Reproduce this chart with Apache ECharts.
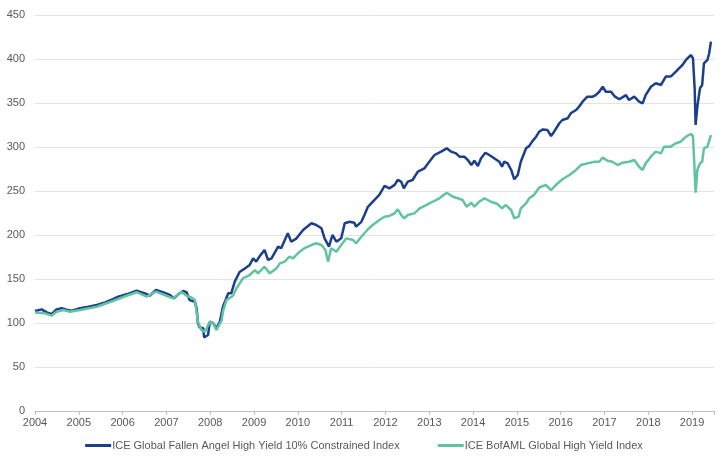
<!DOCTYPE html>
<html>
<head>
<meta charset="utf-8">
<script src="https://cdn.jsdelivr.net/npm/echarts@6/dist/echarts.min.js"></script>
<style>html,body{margin:0;padding:0;background:#fff}#c{width:728px;height:462px}</style>
</head>
<body>
<div id="c"></div>
<script>
// Series names
const seriesNames = ['ICE Global Fallen Angel High Yield 10% Constrained Index', 'ICE BofAML Global High Yield Index'];
// Y tick values
const yTicks = [0, 50, 100, 150, 200, 250, 300, 350, 400, 450];
// X tick labels (years)
const xYears = [2004, 2005, 2006, 2007, 2008, 2009, 2010, 2011, 2012, 2013, 2014, 2015, 2016, 2017, 2018, 2019];

// Fallen Angel index: dates (decimal years) and values
const faDates = [2004.00,2004.15,2004.27,2004.38,2004.49,2004.61,2004.72,2004.84,2005.03,2005.22,2005.41,2005.60,2005.78,2005.90,2006.09,2006.32,2006.51,2006.62,2006.76,2006.92,2007.08,2007.17,2007.27,2007.38,2007.46,2007.53,2007.65,2007.69,2007.72,2007.76,2007.84,2007.86,2007.95,2007.99,2008.06,2008.14,2008.22,2008.29,2008.41,2008.48,2008.56,2008.67,2008.79,2008.90,2008.98,2009.05,2009.13,2009.24,2009.32,2009.40,2009.55,2009.62,2009.77,2009.85,2009.97,2010.12,2010.31,2010.42,2010.54,2010.61,2010.71,2010.79,2010.88,2010.99,2011.07,2011.18,2011.29,2011.33,2011.45,2011.52,2011.60,2011.64,2011.75,2011.86,2011.98,2012.09,2012.21,2012.28,2012.36,2012.42,2012.51,2012.62,2012.74,2012.89,2013.00,2013.12,2013.27,2013.40,2013.50,2013.61,2013.69,2013.80,2013.88,2013.96,2014.03,2014.11,2014.18,2014.28,2014.37,2014.49,2014.60,2014.66,2014.71,2014.79,2014.87,2014.94,2015.02,2015.09,2015.21,2015.28,2015.36,2015.44,2015.51,2015.59,2015.70,2015.78,2015.85,2015.97,2016.04,2016.16,2016.23,2016.35,2016.42,2016.50,2016.61,2016.73,2016.80,2016.88,2016.96,2017.03,2017.15,2017.24,2017.34,2017.49,2017.56,2017.68,2017.79,2017.87,2017.94,2018.06,2018.17,2018.29,2018.40,2018.51,2018.63,2018.70,2018.78,2018.86,2018.97,2019.02,2019.06,2019.08,2019.12,2019.18,2019.23,2019.27,2019.35,2019.39,2019.43];
const faValues = [113.6,115.5,112,110,115.5,116.7,115,114,116.7,118.5,120.5,123.5,127,130,132.6,136.7,133.7,131,137.5,135,131.8,128,132.6,136.4,135,126,124,116.7,99.6,95,94,83.7,86.4,101.5,100,94,101.5,118.5,133.7,133.7,147,158,162,166,173.5,169.7,176,183,171.6,173.5,186.7,185,202,192.4,196.2,205.7,213.3,211.4,207.6,196.2,186.7,200,192.4,196.2,213.3,215,214,209.5,215,222.7,232,234,240,245.5,255.7,253,257,262.5,260.6,253,260.6,262.5,272,275.8,283.3,290.9,294.7,298.5,294.7,292.8,289,289,285.2,279.5,284.4,278.4,287,293.5,290.9,287,283.3,277.6,283.3,281.4,273.9,263.3,268.2,283.3,298.5,301,307,311.7,317.4,320,319.3,312.5,317.4,327,330.7,332.6,338.3,342,345.8,351.5,357.2,357.2,359,362.8,368.5,362.8,362.8,357.2,354.2,359,353.4,357.2,351.5,349.6,359,368.5,372.4,370.5,380,380,385.6,389.4,393.2,398.9,404.5,400.8,364.8,325,345.8,366.7,370.5,395,398.9,406.5,419.7];

// Global High Yield index: dates (decimal years) and values
const hyDates = [2004.00,2004.23,2004.38,2004.49,2004.65,2004.80,2005.03,2005.41,2005.78,2006.09,2006.32,2006.55,2006.76,2007.00,2007.15,2007.34,2007.46,2007.57,2007.65,2007.72,2007.80,2007.88,2007.99,2008.06,2008.14,2008.26,2008.29,2008.37,2008.52,2008.60,2008.75,2008.90,2009.02,2009.09,2009.24,2009.36,2009.51,2009.59,2009.70,2009.81,2009.89,2010.04,2010.15,2010.31,2010.42,2010.54,2010.63,2010.69,2010.76,2010.88,2010.99,2011.11,2011.26,2011.33,2011.45,2011.60,2011.71,2011.86,2011.98,2012.09,2012.21,2012.28,2012.36,2012.43,2012.51,2012.66,2012.78,2012.93,2013.08,2013.23,2013.40,2013.54,2013.65,2013.76,2013.85,2013.96,2014.03,2014.14,2014.26,2014.41,2014.56,2014.66,2014.75,2014.87,2014.94,2015.04,2015.09,2015.21,2015.28,2015.38,2015.51,2015.66,2015.78,2015.89,2016.04,2016.20,2016.35,2016.46,2016.61,2016.77,2016.88,2016.96,2017.07,2017.18,2017.30,2017.41,2017.56,2017.68,2017.79,2017.87,2017.94,2018.06,2018.17,2018.29,2018.36,2018.51,2018.63,2018.74,2018.86,2018.97,2019.02,2019.05,2019.08,2019.12,2019.18,2019.23,2019.27,2019.35,2019.43];
const hyValues = [112,111,108.3,112.8,114.8,112.8,114.8,118.5,125,131,135,130,135.6,131,128,135.6,131,129,126,101.5,92,90,101.5,100,92,103,112.8,126,131,139.4,151,154.5,160,156.4,164,156.4,162,167.8,169.7,175.4,173.5,181,185,188.6,190.6,188.6,183,169.7,185,181,188.6,196.2,194.3,190.6,198,206.5,211.4,217,220.8,221.6,224.6,229.2,222.7,219,222.7,224.6,230.3,234,237.8,241.7,248,243.5,241.7,239.8,232.2,236.7,232.2,237.8,241.7,237.8,235.2,230.3,234,228.4,219,220.8,230.3,236,241.7,245,254,256.8,251.1,256.8,263.3,268.2,273.9,279.5,281.4,283.3,283.3,287.9,284.4,283.3,279.5,282.2,283.3,285.2,277.6,273.9,281.4,289,294.7,292.8,300.4,300.4,304.2,306,311.7,314.8,312.5,281.4,248,273.9,281.4,283.3,298.5,300.4,313.6];

const pair = (d, v) => d.map((x, i) => [x, v[i]]);
const textColor = '#595959';
const font = 'Liberation Sans, Arial, sans-serif';

const chart = echarts.init(document.getElementById('c'), null, {renderer: 'canvas'});
chart.setOption({
  animation: false,
  backgroundColor: '#ffffff',
  grid: {left: 35, right: 14, top: 15, bottom: 51},
  legend: {
    bottom: 6,
    left: 'center',
    itemGap: 38,
    itemWidth: 26,
    itemHeight: 3,
    icon: 'rect',
    textStyle: {color: textColor, fontFamily: font, fontSize: 11, padding: [0, 0, 0, -4]},
    data: seriesNames
  },
  xAxis: {
    type: 'value',
    min: xYears[0],
    max: 2019.5,
    interval: 1,
    axisLine: {lineStyle: {color: '#bfbfbf'}},
    axisTick: {show: true, length: 4, lineStyle: {color: '#bfbfbf'}},
    axisLabel: {color: textColor, fontFamily: font, fontSize: 11, margin: 6,
      formatter: v => (Number.isInteger(v) && xYears.includes(v)) ? String(v) : ''},
    splitLine: {show: false}
  },
  yAxis: {
    type: 'value',
    min: yTicks[0],
    max: yTicks[yTicks.length - 1],
    interval: 50,
    axisLine: {show: false},
    axisTick: {show: false},
    axisLabel: {color: textColor, fontFamily: font, fontSize: 11, margin: 10},
    splitLine: {lineStyle: {color: '#e3e3e3', width: 1}}
  },
  series: [
    {
      name: seriesNames[0], type: 'line', showSymbol: false, symbol: 'none',
      data: pair(faDates, faValues),
      lineStyle: {color: '#1C3F8C', width: 2.5},
      itemStyle: {color: '#1C3F8C'}
    },
    {
      name: seriesNames[1], type: 'line', showSymbol: false, symbol: 'none',
      data: pair(hyDates, hyValues),
      lineStyle: {color: '#62C3A0', width: 2.5},
      itemStyle: {color: '#62C3A0'}
    }
  ]
});
</script>
</body>
</html>
